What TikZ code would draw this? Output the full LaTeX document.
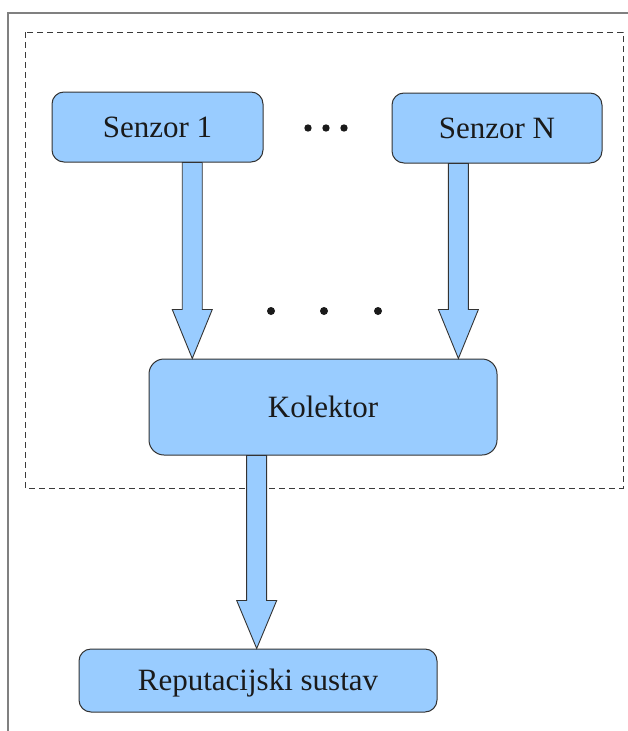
\documentclass[tikz,border=0pt]{standalone}
\usepackage{fontspec}
\setmainfont{Liberation Serif}
\usetikzlibrary{calc}

\definecolor{boxfill}{HTML}{99CCFF}
\definecolor{boxline}{HTML}{333333}
\definecolor{framegray}{HTML}{808080}
\definecolor{dashgray}{HTML}{3A3A3A}
\definecolor{inkdark}{HTML}{1A1A1A}

\tikzset{
  block/.style={draw=boxline, fill=boxfill, line width=1pt, rounded corners=12pt,
    inner sep=0pt, text height=20pt, text depth=0pt, text=inkdark,
    font=\fontsize{31}{31}\selectfont},
  fatarrow/.style={draw=boxline, fill=boxfill, line width=0.9pt, line join=miter},
  dotmark/.style={fill=inkdark, draw=none}
}

% block arrow from #1 down to #2: shaft half-width 10pt, head half-width 20pt, head length #3
\newcommand\blockarrow[3]{%
  \draw[fatarrow] let \p1=(#1), \p2=(#2) in
    (\x1-10pt,\y1) -- (\x1+10pt,\y1) -- (\x1+10pt,\y2+#3) -- (\x1+20pt,\y2+#3)
    -- (\x1,\y2) -- (\x1-20pt,\y2+#3) -- (\x1-10pt,\y2+#3) -- cycle;}

\begin{document}
\begin{tikzpicture}[x=1pt,y=-1pt]
  \useasboundingbox (0,0) rectangle (627,731);

  % outer page frame
  \draw[framegray, line width=1.5pt] (628,13) -- (8,13) -- (8,732);

  % sensing subsystem boundary
  \draw[dashgray, line width=1pt, dash pattern=on 6pt off 4pt] (25,32) rectangle (623,488);

  % components
  \node[block, minimum width=211pt, minimum height=70pt] (s1) at (157.5,127) {Senzor 1};
  \node[block, minimum width=210pt, minimum height=70pt] (sn) at (497,128) {Senzor N};
  \node[block, minimum width=348pt, minimum height=96pt, rounded corners=15pt] (kol) at (323,407) {Kolektor};
  \node[block, minimum width=358pt, minimum height=63pt] (rep) at (258,680.5) {Reputacijski sustav};

  % arrow start points on the box edges
  \coordinate (a1) at ($(s1.south west)!0.664!(s1.south east)$);
  \coordinate (an) at ($(sn.south west)!0.317!(sn.south east)$);
  \coordinate (ak) at ($(kol.south west)!0.31!(kol.south east)$);

  \blockarrow{a1}{a1 |- kol.north}{49pt}
  \blockarrow{an}{an |- kol.north}{49pt}
  \blockarrow{ak}{ak |- rep.north}{48pt}

  % ellipses between the sensors
  \foreach \x in {308,326,344} \fill[dotmark] (\x,128) circle (3.7pt);
  \foreach \x in {271,324,378} \fill[dotmark] (\x,311) circle (4pt);
\end{tikzpicture}
\end{document}
